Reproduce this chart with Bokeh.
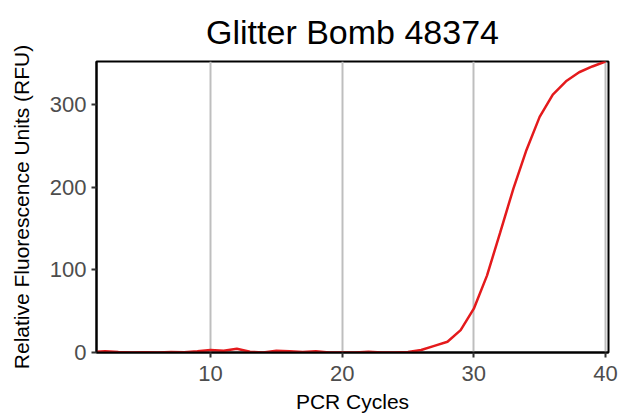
from bokeh.plotting import figure
from bokeh.models import Range1d, FixedTicker, Title
from bokeh.embed import file_html
from bokeh.resources import INLINE

cycles = list(range(1, 41))
rfu = [0.5, 1.5, 0.5, 0.0, 0.3, 0.0, 0.5, 0.3, 1.5, 3.0,
       2.0, 4.5, 1.0, 0.0, 2.0, 1.5, 0.5, 1.5, 0.0, 0.0,
       0.0, 1.0, 0.0, 0.0, 0.5, 3.0, 8.0, 13.0, 27.0, 53.0,
       93.0, 145.0, 198.0, 245.0, 285.0, 312.0, 328.0, 339.0, 346.0, 352.0]
x_ticks = [10, 20, 30, 40]
y_ticks = [0, 100, 200, 300]

FONT = "Liberation Sans"

p = figure(width=630, height=416, output_backend="svg", toolbar_location=None,
           x_range=Range1d(1.34, 40.23), y_range=Range1d(0, 352),
           min_border_left=96, min_border_right=22, min_border_top=61, min_border_bottom=64)

p.title = Title(text="Glitter Bomb 48374", align="center", text_font=FONT,
                text_font_size="34px", text_font_style="normal", text_color="black",
                standoff=21)

p.line(cycles, rfu, line_color="#e41a1c", line_width=2.5)

p.outline_line_color = "black"
p.outline_line_width = 2
p.background_fill_color = "white"
p.border_fill_color = "white"

p.ygrid.grid_line_color = None
p.xgrid.grid_line_color = "#bebebe"
p.xgrid.grid_line_width = 2
p.xaxis.ticker = FixedTicker(ticks=x_ticks)
p.yaxis.ticker = FixedTicker(ticks=y_ticks)

for ax in (p.xaxis, p.yaxis):
    ax.axis_line_color = "black"
    ax.axis_line_width = 2
    ax.major_tick_line_color = "#333333"
    ax.major_tick_line_width = 2
    ax.major_tick_out = 5
    ax.major_tick_in = 0
    ax.minor_tick_line_color = None
    ax.major_label_text_font = FONT
    ax.major_label_text_font_size = "22px"
    ax.major_label_text_color = "#4d4d4d"
    ax.axis_label_text_font = FONT
    ax.axis_label_text_font_size = "21px"
    ax.axis_label_text_font_style = "normal"
    ax.axis_label_text_color = "black"

p.xaxis.axis_label = "PCR Cycles"
p.yaxis.axis_label = "Relative Fluorescence Units (RFU)"
p.xaxis.major_label_standoff = 8
p.yaxis.major_label_standoff = 5
p.xaxis.axis_label_standoff = 6
p.yaxis.axis_label_standoff = 14

open("out.html", "w").write(file_html(p, INLINE))
